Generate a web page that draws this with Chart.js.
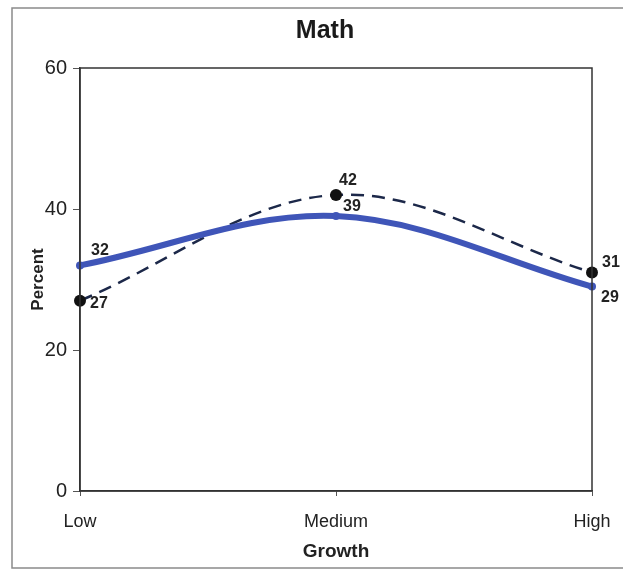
<!DOCTYPE html>
<html>
<head>
<meta charset="utf-8">
<script src="https://cdn.jsdelivr.net/npm/chart.js@4.4.1/dist/chart.umd.min.js"></script>
<style>
  html, body { margin: 0; padding: 0; background: #fff; }
  #wrap { width: 623px; height: 572px; position: relative; }
</style>
</head>
<body>
<div id="wrap"><canvas id="c" width="623" height="572"></canvas></div>
<script>
const chartTitle = "Math";
const categories = ["Low", "Medium", "High"];
const seriesSolid = [32, 39, 29];
const seriesDashed = [27, 42, 31];
const yTicks = [0, 20, 40, 60];
const xTitle = "Growth";
const yTitle = "Percent";

const FONT = "'Liberation Sans', Arial, Helvetica, sans-serif";

// label offsets (style) per dataset/point
const labelOffsets = [
  [[20, -15], [16, -9], [18, 11]],
  [[19, 3], [12, -14], [19, -10]]
];

const decorPlugin = {
  id: 'decor',
  beforeDraw(chart) {
    const ctx = chart.ctx;
    ctx.save();
    ctx.fillStyle = '#fff';
    ctx.fillRect(0, 0, chart.width, chart.height);
    ctx.strokeStyle = '#8a8a8a';
    ctx.lineWidth = 1.5;
    ctx.strokeRect(12, 8, 640, 560);
    ctx.restore();
  },
  afterDatasetsDraw(chart) {
    const ctx = chart.ctx;
    const a = chart.chartArea;
    ctx.save();
    ctx.strokeStyle = '#333';
    ctx.lineWidth = 1.5;
    ctx.strokeRect(a.left, a.top, a.right - a.left, a.bottom - a.top);
    // data labels
    ctx.font = "bold 16px " + FONT;
    ctx.fillStyle = '#222';
    ctx.textAlign = 'center';
    ctx.textBaseline = 'middle';
    chart.data.datasets.forEach((ds, di) => {
      const meta = chart.getDatasetMeta(di);
      meta.data.forEach((pt, i) => {
        const off = labelOffsets[di][i];
        ctx.fillText(String(ds.data[i]), pt.x + off[0], pt.y + off[1]);
      });
    });
    // title
    ctx.font = "bold 25px " + FONT;
    ctx.fillStyle = '#1a1a1a';
    ctx.fillText(chartTitle, 325, 31);
    ctx.restore();
  }
};

new Chart(document.getElementById('c'), {
  type: 'line',
  data: {
    labels: categories,
    datasets: [
      {
        label: 'Solid',
        data: seriesSolid,
        borderColor: '#3f55b8',
        backgroundColor: '#3f55b8',
        borderWidth: 6,
        tension: 0.35,
        pointRadius: 4,
        pointBackgroundColor: '#3f55b8',
        pointBorderWidth: 0,
        fill: false
      },
      {
        label: 'Dashed',
        data: seriesDashed,
        borderColor: '#1c2849',
        backgroundColor: '#111',
        borderWidth: 2.5,
        borderDash: [13, 8],
        tension: 0.35,
        pointRadius: 6,
        pointBackgroundColor: '#111',
        pointBorderWidth: 0,
        fill: false
      }
    ]
  },
  options: {
    responsive: false,
    animation: false,
    events: [],
    layout: { padding: { left: 12, right: 31, top: 68, bottom: 0 } },
    plugins: {
      legend: { display: false },
      title: { display: false },
      tooltip: { enabled: false }
    },
    scales: {
      x: {
        type: 'category',
        offset: false,
        afterFit(s) { s.height = 81; s.paddingLeft = 0; s.paddingRight = 0; },
        grid: { drawOnChartArea: false, drawTicks: true, tickLength: 5, color: '#555' },
        border: { display: true, color: '#333', width: 1.5 },
        ticks: { font: { family: FONT, size: 18 }, color: '#222', padding: 15, maxRotation: 0 },
        title: { display: true, text: xTitle, font: { family: FONT, size: 19, weight: 'bold' }, color: '#222', padding: { top: 0, bottom: 9 } }
      },
      y: {
        min: 0, max: 60,
        afterFit(s) { s.width = 68; s.paddingTop = 0; s.paddingBottom = 0; },
        afterBuildTicks(s) { s.ticks = yTicks.map(v => ({ value: v })); },
        grid: { drawOnChartArea: false, drawTicks: true, tickLength: 7, color: '#555' },
        border: { display: true, color: '#333', width: 1.5 },
        ticks: { font: { family: FONT, size: 20 }, color: '#222', padding: 6 },
        title: { display: true, text: yTitle, font: { family: FONT, size: 17, weight: 'bold' }, color: '#222', padding: { top: 16, bottom: 0 } }
      }
    }
  },
  plugins: [decorPlugin]
});
</script>
</body>
</html>
